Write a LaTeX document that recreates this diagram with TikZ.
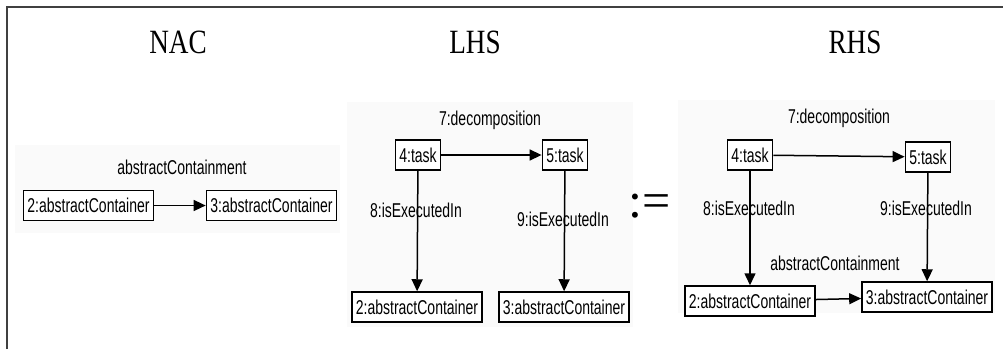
\documentclass[tikz,border=0pt]{standalone}
\usepackage{fontspec}
\setmainfont{Liberation Serif}
\setsansfont{Liberation Sans}
\usepackage{graphicx}
\usetikzlibrary{arrows.meta,positioning}

\tikzset{
    obj/.style={draw,line width=1.5pt,fill=white,minimum height=30pt,inner xsep=4pt,inner ysep=0pt,font=\sffamily\fontsize{20}{20}\selectfont},
    lbl/.style={inner sep=0pt,font=\sffamily\fontsize{20}{20}\selectfont},
    ttl/.style={inner sep=0pt,font=\fontsize{34}{34}\selectfont},
    link/.style={line width=1.5pt,-{Triangle[length=12pt,width=11pt]}},
    panel/.style={fill=black!2,draw=none}
}
% squeezed text, as in the rule editor
\newcommand{\nar}[1]{\scalebox{0.7}[1]{#1}}
\newcommand{\tnar}[1]{\scalebox{0.8}[1]{#1}}

\begin{document}
\begin{tikzpicture}[x=1pt,y=-1pt]
    \useasboundingbox (0,0) rectangle (1003,349);
    %% Frame
    \draw[line width=2pt,black!75] (7,349) -- (7,7) -- (1003,7);
    %% Panels
    \fill[panel] (15,145) rectangle (340,233);
    \fill[panel] (347,102) rectangle (633,327);
    \fill[panel] (678,100) rectangle (995,313);
    %% Titles
    \node[ttl] (nac) at (178,42) {\tnar{NAC}};
    \node[ttl] (lhs) at (475,42) {\tnar{LHS}};
    \node[ttl] (rhs) at (855,42) {\tnar{RHS}};
    \node[inner sep=0pt,font=\fontsize{50}{50}\selectfont] (assign) at (650,206) {:=};
    %% NAC
    \node[obj] (c2n) at (88.5,205.5) {\nar{2:abstractContainer}};
    \node[obj] (c3n) at (271.5,205.5) {\nar{3:abstractContainer}};
    \node[lbl] (acn) at (182,167) {\nar{abstractContainment}};
    \draw[link] (c2n) -- (c3n);
    %% LHS
    \node[obj] (t4l) at (418,155) {\nar{4:task}};
    \node[obj] (t5l) at (565,155) {\nar{5:task}};
    \node[obj] (c2l) at (417,307) {\nar{2:abstractContainer}};
    \node[obj] (c3l) at (564,307) {\nar{3:abstractContainer}};
    \node[lbl] (dcl) at (490,120) {\nar{7:decomposition}};
    \node[lbl] (e8l) at (416,210) {\nar{8:isExecutedIn}};
    \node[lbl] (e9l) at (563,219) {\nar{9:isExecutedIn}};
    \draw[link] (t4l) -- (t5l);
    \draw[link] (t4l) -- (c2l);
    \draw[link] (t5l) -- (c3l);
    %% RHS
    \node[obj] (t4r) at (750,155) {\nar{4:task}};
    \node[obj] (t5r) at (928,157) {\nar{5:task}};
    \node[obj] (c2r) at (750,301) {\nar{2:abstractContainer}};
    \node[obj] (c3r) at (927,297) {\nar{3:abstractContainer}};
    \node[lbl] (dcr) at (839,118) {\nar{7:decomposition}};
    \node[lbl] (e8r) at (749,208) {\nar{8:isExecutedIn}};
    \node[lbl] (e9r) at (926,208) {\nar{9:isExecutedIn}};
    \node[lbl] (acr) at (835,263) {\nar{abstractContainment}};
    \draw[link] (t4r) -- (t5r);
    \draw[link] (t4r) -- (c2r);
    \draw[link] (t5r) -- (c3r);
    \draw[link] (c2r) -- (c3r);
\end{tikzpicture}
\end{document}
